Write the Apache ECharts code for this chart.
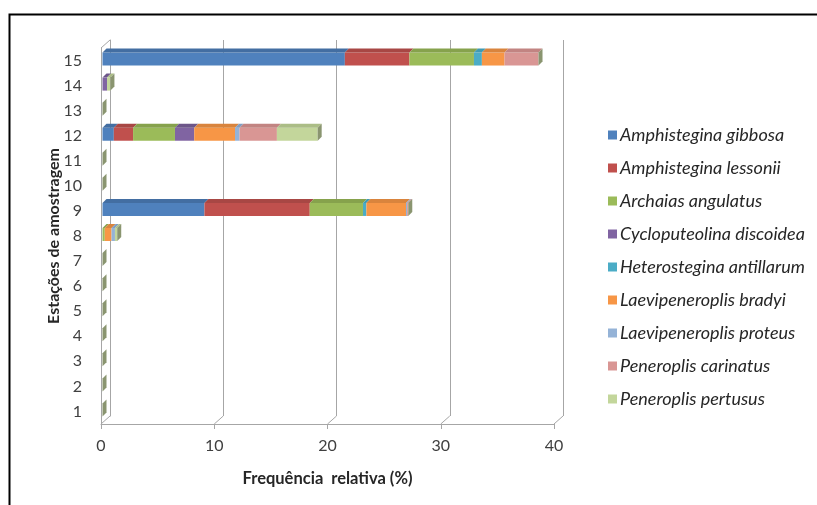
<!DOCTYPE html>
<html>
<head>
<meta charset="utf-8">
<script src="https://cdn.jsdelivr.net/npm/echarts@6/dist/echarts.min.js"></script>
<style>
  html, body { margin: 0; padding: 0; background: #fff; }
  #chart { width: 817px; height: 505px; }
</style>
</head>
<body>
<div id="chart"></div>
<script>
// Sampling stations 1..15 (bottom to top)
const stations = ['1','2','3','4','5','6','7','8','9','10','11','12','13','14','15'];
const xTicks = [0, 10, 20, 30, 40];
const yTitle = 'Estações de amostragem';
const xTitle = 'Frequência  relativa (%)';

// Relative frequency (%) of each species per station
const amphisteginaGibbosa      = [0,0,0,0,0,0,0,0,   9.0,0,0,1.0,0,0,  21.4];
const amphisteginaLessonii     = [0,0,0,0,0,0,0,0,   9.3,0,0,1.7,0,0,   5.7];
const archaiasAngulatus        = [0,0,0,0,0,0,0,0.2, 4.7,0,0,3.7,0,0,   5.7];
const cycloputeolinaDiscoidea  = [0,0,0,0,0,0,0,0,   0,  0,0,1.7,0,0.4, 0  ];
const heterosteginaAntillarum  = [0,0,0,0,0,0,0,0,   0.3,0,0,0,  0,0,   0.7];
const laevipeneroplisBradyi    = [0,0,0,0,0,0,0,0.6, 3.5,0,0,3.6,0,0,   2.0];
const laevipeneroplisProteus   = [0,0,0,0,0,0,0,0.3, 0.1,0,0,0.4,0,0,   0  ];
const peneroplisCarinatus      = [0,0,0,0,0,0,0,0,   0.1,0,0,3.3,0,0,   3.0];
const peneroplisPertusus       = [0,0,0,0,0,0,0,0.2, 0,  0,0,3.6,0,0.3, 0  ];

const speciesNames = [
  'Amphistegina gibbosa', 'Amphistegina lessonii', 'Archaias angulatus',
  'Cycloputeolina discoidea', 'Heterostegina antillarum', 'Laevipeneroplis bradyi',
  'Laevipeneroplis proteus', 'Peneroplis carinatus', 'Peneroplis pertusus'
];
const speciesValues = [
  amphisteginaGibbosa, amphisteginaLessonii, archaiasAngulatus,
  cycloputeolinaDiscoidea, heterosteginaAntillarum, laevipeneroplisBradyi,
  laevipeneroplisProteus, peneroplisCarinatus, peneroplisPertusus
];
const speciesColors = ['#4F81BD','#C0504D','#9BBB59','#8064A2','#4BACC6','#F79646','#95B3D7','#D99694','#C3D69B'];
const speciesTops   = ['#436EA2','#A84744','#86A24C','#6D5689','#409AB2','#D9843D','#819DC0','#C28482','#ABBD86'];

// Pseudo-3D geometry (pixels)
const DX = 9, DY = 8;          // wall / floor depth
const BAR_H = 13, BAR_D = 4;   // bar thickness and bar depth

function shade(points, fill) {
  return { type: 'polygon', shape: { points: points }, style: { fill: fill } };
}

// Stacked bars drawn segment by segment on the category/value axes
const totals = stations.map(() => 0);
const barSeries = speciesValues.map((vals, s) => {
  const data = vals.map((v, i) => {
    const base = totals[i];
    totals[i] += v;
    return [v, i, base];
  });
  return {
    name: speciesNames[s],
    type: 'custom',
    xAxisIndex: 0, yAxisIndex: 0,
    itemStyle: { color: speciesColors[s] },
    data: data,
    z: 3,
    renderItem: function (params, api) {
      const val = api.value(0), cat = api.value(1), base = api.value(2);
      if (!(val > 0)) return null;
      const p0 = api.coord([base, cat]);
      const p1 = api.coord([base + val, cat]);
      const x = p0[0] + 1.5, w = p1[0] - p0[0];
      const y = p0[1] - 1.5 - BAR_H / 2;
      return {
        type: 'group',
        children: [
          { type: 'rect', shape: { x: x, y: y, width: w, height: BAR_H },
            style: { fill: speciesColors[s] } },
          shade([[x, y], [x + BAR_D, y - BAR_D], [x + w + BAR_D, y - BAR_D], [x + w, y]], speciesTops[s])
        ]
      };
    }
  };
});

// End face of each stacked bar (also visible as a sliver where the total is zero)
const endSeries = {
  type: 'custom',
  xAxisIndex: 0, yAxisIndex: 0,
  silent: true,
  z: 4,
  data: totals.map((t, i) => [t, i]),
  renderItem: function (params, api) {
    const p = api.coord([api.value(0), api.value(1)]);
    const x = p[0] + 1.5;
    const y = p[1] - 1.5 - BAR_H / 2;
    return shade([[x, y], [x + BAR_D, y - BAR_D], [x + BAR_D, y + BAR_H - BAR_D], [x, y + BAR_H]], '#8A9570');
  }
};

// Floor and wall edges joining the front plane to the back plane
const frameSeries = {
  type: 'custom',
  xAxisIndex: 0, yAxisIndex: 0,
  silent: true,
  z: 1,
  data: xTicks.map(v => [v, 0]),
  renderItem: function (params, api) {
    const cs = params.coordSys;
    const x = api.coord([api.value(0), 0])[0];
    const bottom = cs.y + cs.height, top = cs.y;
    const st = { stroke: '#A6A6A6', lineWidth: 1, fill: null };
    const kids = [{ type: 'line', shape: { x1: x, y1: bottom, x2: x + DX, y2: bottom - DY }, style: st }];
    if (api.value(0) === 0) {
      kids.push({ type: 'line', shape: { x1: x, y1: top, x2: x + DX, y2: top - DY }, style: st });
    }
    return { type: 'group', children: kids };
  }
};

const FRONT = { left: 101, top: 48, width: 453, height: 376 };
const labelFont = 'Lato, "Open Sans", sans-serif';

const chart = echarts.init(document.getElementById('chart'), null, { renderer: 'canvas' });
chart.setOption({
  backgroundColor: '#ffffff',
  animation: false,
  graphic: [
    { type: 'rect', shape: { x: 9.5, y: 14.5, width: 840, height: 520 },
      style: { fill: null, stroke: '#000', lineWidth: 2 }, z: 0 },
    // Vertical axis title, left of the station labels
    { type: 'text', x: 54, y: FRONT.top + FRONT.height / 2, rotation: Math.PI / 2,
      style: { text: yTitle, align: 'center', verticalAlign: 'middle',
        fontFamily: labelFont, fontSize: 16, fontWeight: 'bold', fill: '#262626' } }
  ],
  legend: {
    data: speciesNames,
    orient: 'vertical',
    left: 603, top: 120,
    itemWidth: 9, itemHeight: 9,
    itemGap: 13,
    icon: 'rect',
    textStyle: { fontFamily: labelFont, fontStyle: 'italic', fontSize: 18, lineHeight: 20,
      color: '#262626', padding: [0, 0, 0, -2] }
  },
  grid: [
    { left: FRONT.left, top: FRONT.top, width: FRONT.width, height: FRONT.height },
    { left: FRONT.left + DX, top: FRONT.top - DY, width: FRONT.width, height: FRONT.height }
  ],
  xAxis: [
    { gridIndex: 0, type: 'value', min: 0, max: 40, interval: 10,
      axisLine: { show: true, lineStyle: { color: '#A6A6A6' } },
      axisTick: { show: true, length: 5, lineStyle: { color: '#A6A6A6' } },
      splitLine: { show: false },
      axisLabel: { margin: 14, fontFamily: labelFont, fontSize: 16, color: '#404040' },
      name: xTitle, nameLocation: 'middle', nameGap: 46,
      nameTextStyle: { fontFamily: labelFont, fontSize: 16.5, fontWeight: 'bold', color: '#262626' }
    },
    { gridIndex: 1, type: 'value', min: 0, max: 40, interval: 10,
      axisLine: { show: false }, axisTick: { show: false }, axisLabel: { show: false },
      splitLine: { show: true, lineStyle: { color: '#A6A6A6' } }
    }
  ],
  yAxis: [
    { gridIndex: 0, type: 'category', data: stations,
      axisLine: { show: true, lineStyle: { color: '#A6A6A6' } },
      axisTick: { show: false },
      axisLabel: { margin: 19, fontFamily: labelFont, fontSize: 16, color: '#404040' }
    },
    { gridIndex: 1, type: 'category', data: stations,
      axisLine: { show: true, lineStyle: { color: '#A6A6A6' } },
      axisTick: { show: false }, axisLabel: { show: false }, splitLine: { show: false }
    }
  ],
  series: [frameSeries].concat(barSeries, [endSeries])
});
</script>
</body>
</html>
